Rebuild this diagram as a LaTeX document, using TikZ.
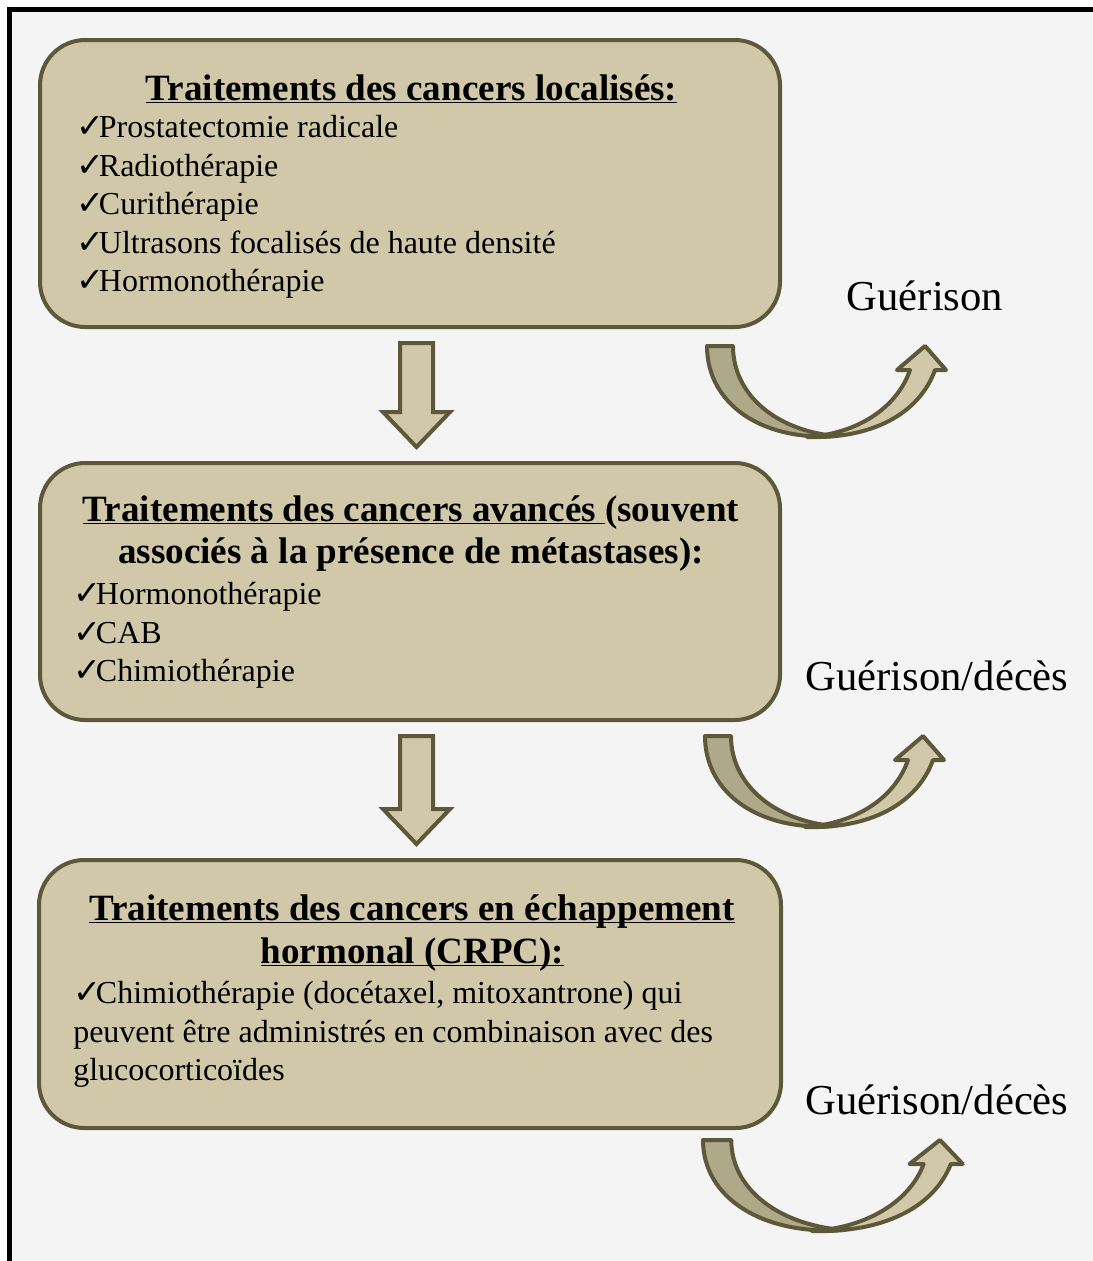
\documentclass[tikz,border=0pt]{standalone}
\usepackage{fontspec}
\setmainfont{Liberation Serif}
\newfontfamily\symfont{DejaVu Sans}
\usetikzlibrary{calc}
\definecolor{boxfill}{HTML}{D0C8A8}
\definecolor{boxline}{HTML}{5E583A}
\definecolor{darkband}{HTML}{AEA989}
\definecolor{pagegray}{HTML}{F4F4F4}
\tikzset{
	treatbox/.style={draw=boxline, fill=boxfill, line width=3pt, rounded corners=34pt, inner sep=0pt},
	headtext/.style={anchor=base, inner sep=0pt, font=\bfseries\fontsize{27.8pt}{31.5pt}\selectfont},
	itemtext/.style={anchor=base west, inner sep=0pt, font=\fontsize{24pt}{29pt}\selectfont},
	outcome/.style={anchor=base, inner sep=0pt, font=\fontsize{32pt}{38pt}\selectfont},
	arrowbody/.style={draw=boxline, fill=boxfill, line width=3pt, line join=miter}
}
\newcommand{\chk}{\makebox[17pt][l]{\symfont\fontsize{25pt}{25pt}\selectfont ✓}}
\newcommand{\undl}[1]{\underline{\smash{#1}}} % underline at the same depth on every line
\newcommand{\blockarrow}[2] % box above, box below
{
	% shaft top and tip, a little right of the box centres
	\coordinate (#1top) at ($(#1.south)+(6.5,14)$);
	\coordinate (#1tip) at ($(#2.north)+(6.5,-14)$);
	\draw[arrowbody] ($(#1top)+(-16.5,0)$) -- ($(#1tip)+(-16.5,-35)$) -- ($(#1tip)+(-33.5,-35)$) -- (#1tip)
		-- ($(#1tip)+(33.5,-35)$) -- ($(#1tip)+(16.5,-35)$) -- ($(#1top)+(16.5,0)$) -- cycle;
}
\newcommand{\bentarrow}[3] % x, y of tail corner in px, horizontal stretch
{
	\begin{scope}[shift={(#1,#2)}, xscale=#3]
	% tail half, darker
	\draw[draw=boxline, fill=darkband, line width=3pt, line join=round] (0,0) -- (26,0) .. controls (26,48) and (68,84) .. (128,90)
		.. controls (55,95) and (0,58) .. (0,0) -- cycle;
	% head half, lighter
	\draw[draw=boxline, fill=boxfill, line width=3pt, line join=round] (203,24) -- (190,24) -- (218,0) -- (239,24) -- (228,24)
		.. controls (212,68) and (165,93) .. (100,91) .. controls (150,88) and (190,62) .. (203,24) -- cycle;
	\end{scope}
}

\begin{document}
\begin{tikzpicture}[x=0.75pt, y=-0.75pt]
	% page 1093 x 1261 px, 1 px = 0.75pt
	\useasboundingbox (0,0) rectangle (1093,1261);
	\clip (0,0) rectangle (1093,1261);
	\fill[white] (0,0) rectangle (1093,1261);
	\draw[line width=4.1pt, fill=pagegray] (9.7,9.5) rectangle (1120,1290);
	
	% the three stages
	\node[treatbox, minimum width=555pt, minimum height=215.25pt] (loc) at (410,183.5) {};
	\node[treatbox, minimum width=555pt, minimum height=192.75pt] (adv) at (410,591.5) {};
	\node[treatbox, minimum width=556.5pt, minimum height=201pt] (crpc) at (410,994) {};
	
	\blockarrow{loc}{adv};
	\blockarrow{adv}{crpc};
	
	\bentarrow{707}{346}{1};
	\bentarrow{705}{736}{1};
	\bentarrow{703}{1140}{1.087};
	
	% localised
	\node[headtext] (lochead) at (411.5,100) {\undl{Traitements des cancers localisés:}};
	\node[itemtext] (loc1) at (76,137.5) {\chk Prostatectomie radicale};
	\node[itemtext] (loc2) at (76,176.1) {\chk Radiothérapie};
	\node[itemtext] (loc3) at (76,214.7) {\chk Curithérapie};
	\node[itemtext] (loc4) at (76,253.3) {\chk Ultrasons focalisés de haute densité};
	\node[itemtext] (loc5) at (76,291.9) {\chk Hormonothérapie};
	
	% advanced
	\node[headtext] (advhead1) at (411,521) {\undl{Traitements des cancers avancés }(souvent};
	\node[headtext] (advhead2) at (411,563) {associés à la présence de métastases):};
	\node[itemtext] (adv1) at (73,604) {\chk Hormonothérapie};
	\node[itemtext] (adv2) at (73,643) {\chk CAB};
	\node[itemtext] (adv3) at (73,681) {\chk Chimiothérapie};
	
	% castration resistant
	\node[headtext] (crpchead1) at (412,920) {\undl{Traitements des cancers en échappement}};
	\node[headtext] (crpchead2) at (412.5,963) {\undl{hormonal (CRPC):}};
	\node[itemtext] (crpc1) at (73,1003) {\chk Chimiothérapie (docétaxel, mitoxantrone) qui};
	\node[itemtext] (crpc2) at (73,1042) {peuvent être administrés en combinaison avec des};
	\node[itemtext] (crpc3) at (73,1080) {glucocorticoïdes};
	
	% outcomes
	\node[outcome] (cure1) at (925,310) {Guérison};
	\node[outcome] (cure2) at (937,690) {Guérison/décès};
	\node[outcome] (cure3) at (937,1114) {Guérison/décès};
	
\end{tikzpicture}
\end{document}
